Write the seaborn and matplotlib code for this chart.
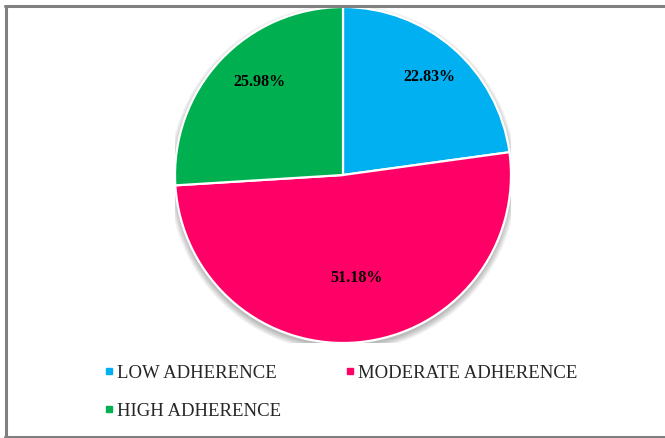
import matplotlib
matplotlib.use("Agg")
import matplotlib.pyplot as plt
from matplotlib.lines import Line2D
from matplotlib.patches import Circle
import numpy as np
import seaborn as sns

categories = ["LOW ADHERENCE", "MODERATE ADHERENCE", "HIGH ADHERENCE"]
shares = [22.83, 51.18, 25.98]
palette = sns.color_palette(["#00B0F0", "#FF0066", "#00B050"])

sns.set_theme(style="white")
plt.rcParams["font.family"] = ["Liberation Serif", "DejaVu Serif"]

W, H = 665, 439
fig = plt.figure(figsize=(W / 100, H / 100), dpi=100)
fig.patch.set_facecolor("white")

# pie axes: centre (343, 176) px, radius 168 px
cx, cy, r = 343, 176, 168
ax = fig.add_axes([(cx - r) / W, (H - cy - r) / H, 2 * r / W, 2 * r / H])

# soft drop shadow under the pie
for i in range(8):
    ax.add_patch(Circle((0.0, -0.02), 1.0 + i * 0.005, facecolor="#000000",
                        alpha=0.035, edgecolor="none", zorder=0))

wedges, texts = ax.pie(
    shares, colors=palette, startangle=90, counterclock=False,
    wedgeprops=dict(edgecolor="white", linewidth=1.6),
    radius=1.0, frame=False,
)
for w in wedges:
    w.set_zorder(2)

# value labels placed near each wedge's bisector
label_radius = [0.78, 0.61, 0.75]
label_shift = [0.0, 2.0, -5.0]
theta = 90.0
for val, rad, shift in zip(shares, label_radius, label_shift):
    mid = theta - val * 3.6 / 2 + shift
    theta -= val * 3.6
    x = rad * np.cos(np.radians(mid))
    y = rad * np.sin(np.radians(mid))
    ax.text(x, y, f"{val:.2f}%", ha="center", va="center",
            fontsize=11.5, fontweight="bold", color="black", zorder=3)

ax.set_xlim(-1, 1)
ax.set_ylim(-1, 1)
ax.set_aspect("equal")
ax.axis("off")

# legend below the pie (row order: low, moderate / high)
handles = [Line2D([0], [0], marker="s", linestyle="none", markersize=4.5,
                  markerfacecolor=c, markeredgecolor=c) for c in palette]
order = [0, 2, 1]
fig.legend([handles[i] for i in order], [categories[i] for i in order],
           loc="upper left", bbox_to_anchor=(95 / W, 1 - 356 / H), ncol=2,
           frameon=False, fontsize=13.5, handlelength=0.45, handletextpad=0.2,
           columnspacing=3.45, labelspacing=1.1, borderpad=0)

# outer frame (left, top, bottom)
fig.add_artist(Line2D([6 / W, 6 / W], [1 - 7 / H, 1 - 437.5 / H], color="#808080",
                      lw=2.2, transform=fig.transFigure))
fig.add_artist(Line2D([5 / W, 1.0], [1 - 7 / H, 1 - 7 / H], color="#808080",
                      lw=2.2, transform=fig.transFigure))
fig.add_artist(Line2D([5 / W, 1.0], [1 - 437.5 / H, 1 - 437.5 / H], color="#808080",
                      lw=2.2, transform=fig.transFigure))

fig.savefig("out.png", dpi=100)
